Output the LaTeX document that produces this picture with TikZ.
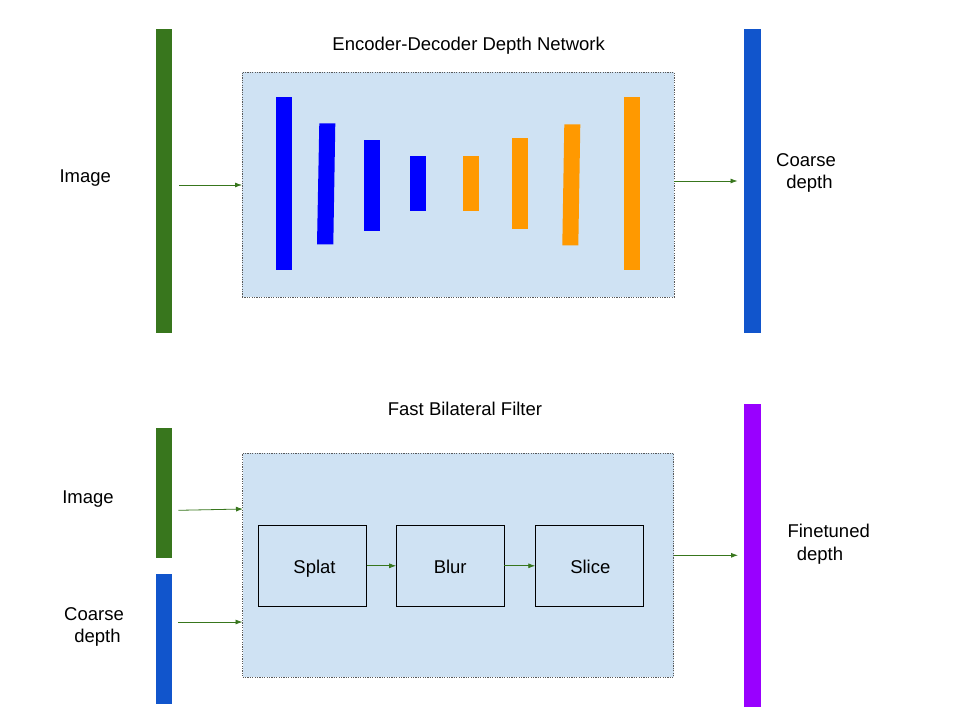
\documentclass[tikz,border=0pt]{standalone}
\usepackage{fontspec}
\setmainfont{Liberation Sans}
\usetikzlibrary{arrows.meta}
\definecolor{gGreen}{HTML}{38761D}
\definecolor{gBlue}{HTML}{0000FF}
\definecolor{gOrange}{HTML}{FF9900}
\definecolor{gCoarse}{HTML}{1155CC}
\definecolor{gPurple}{HTML}{9900FF}
\definecolor{gFill}{HTML}{CFE2F3}
\definecolor{gBorder}{HTML}{595959}
\tikzset{
  bar/.style={rectangle, inner sep=0pt, outer sep=0pt, draw=none},
  panel/.style={rectangle, inner sep=0pt, outer sep=0pt, fill=gFill, draw=gBorder, line width=0.7pt, dash pattern=on 1.2pt off 1.2pt},
  stage/.style={rectangle, inner sep=0pt, outer sep=0pt, fill=gFill, draw=black, line width=1pt, minimum width=108pt, minimum height=81pt},
  lbl/.style={anchor=base, inner sep=0pt, font=\fontsize{18.5}{22}\selectfont},
  arr/.style={draw=gGreen, line width=0.8pt, -{Latex[length=7pt,width=5pt]}},
}
\begin{document}
\begin{tikzpicture}[x=1pt,y=-1pt]
\useasboundingbox (0,0) rectangle (960,720);
% ---------- top ----------
\node[bar, fill=gGreen, minimum width=16pt, minimum height=304pt] (img1) at (164,181) {};
\node[panel, minimum width=432pt, minimum height=225pt] (enc) at (458,184.5) {};
\node[bar, fill=gCoarse, minimum width=17pt, minimum height=304pt] (cd1) at (752.5,181) {};
\node[lbl] (tenc) at (468.7,50) {Encoder-Decoder Depth Network};
\node[lbl] (limg1) at (85.3,182.3) {Image};
\node[lbl] (lcd1a) at (806,166.7) {Coarse};
\node[lbl] (lcd1b) at (809.5,188.5) {depth};
% encoder / decoder bars
\node[bar, fill=gBlue, minimum width=16pt, minimum height=173pt] (e1) at (283.5,183.5) {};
\path[fill=gBlue] (319.3,123.3) -- (335.3,123.3) -- (333.3,244.3) -- (317,244.3) -- cycle;
\node[bar, fill=gBlue, minimum width=16pt, minimum height=91pt] (e3) at (371.5,185) {};
\node[bar, fill=gBlue, minimum width=16pt, minimum height=55pt] (e4) at (418.3,183.8) {};
\node[bar, fill=gOrange, minimum width=16pt, minimum height=55pt] (d4) at (470.5,183.8) {};
\node[bar, fill=gOrange, minimum width=16pt, minimum height=91pt] (d3) at (520.3,183.8) {};
\path[fill=gOrange] (564.3,124.3) -- (580.3,124.3) -- (578.3,245.3) -- (562.3,245.3) -- cycle;
\node[bar, fill=gOrange, minimum width=16pt, minimum height=173pt] (d1) at (631.5,183.8) {};
\coordinate (a1s) at (179,185);
\draw[arr] (a1s) -- (a1s -| enc.west);
\coordinate (a2s) at (674,181);
\coordinate (a2e) at (737.5,181);
\draw[arr] (a2s) -- (a2e);
% ---------- bottom ----------
\node[lbl] (tfbf) at (465,415) {Fast Bilateral Filter};
\node[bar, fill=gGreen, minimum width=16pt, minimum height=130pt] (img2) at (163.5,493) {};
\node[bar, fill=gCoarse, minimum width=16pt, minimum height=130pt] (cd2) at (163.5,639.3) {};
\node[panel, minimum width=431pt, minimum height=224pt] (fbf) at (458,565.2) {};
\node[bar, fill=gPurple, minimum width=17pt, minimum height=303pt] (ft) at (752.5,555.7) {};
\node[lbl] (limg2) at (88,503) {Image};
\node[lbl] (lcd2a) at (94,620) {Coarse};
\node[lbl] (lcd2b) at (97.5,642.5) {depth};
\node[lbl] (lfta) at (828.7,537.7) {Finetuned};
\node[lbl] (lftb) at (820,560) {depth};
\node[stage] (splat) at (312.5,565.8) {};
\node[stage] (blur) at (450.2,565.8) {};
\node[stage] (slice) at (589.3,565.8) {};
\node[lbl] (tsplat) at (314.5,573.3) {Splat};
\node[lbl] (tblur) at (450.2,573.3) {Blur};
\node[lbl] (tslice) at (590.3,573.3) {Slice};
\draw[arr] (splat.east) -- (blur.west);
\draw[arr] (blur.east) -- (slice.west);
\coordinate (b1s) at (178.3,510.3);
\coordinate (b1e) at (243,509);
\draw[arr] (b1s) -- (b1e);
\coordinate (b2s) at (178.3,622);
\draw[arr] (b2s) -- (b2s -| fbf.west);
\coordinate (b3s) at (673.5,555.3);
\coordinate (b3e) at (738,555.3);
\draw[arr] (b3s) -- (b3e);
\end{tikzpicture}
\end{document}
